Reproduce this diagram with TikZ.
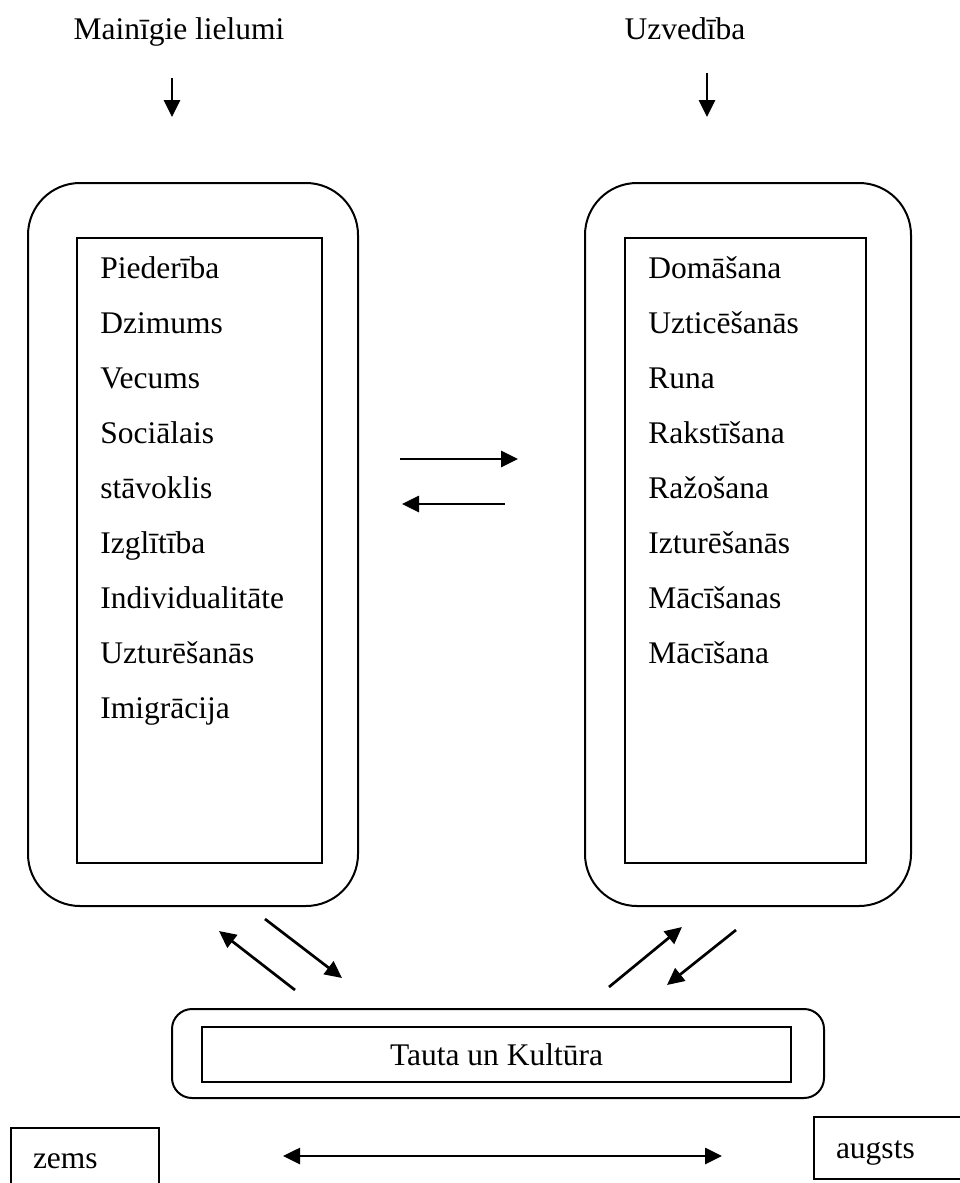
\documentclass[tikz,border=0pt]{standalone}
\usepackage{fontspec}
\setmainfont{Liberation Serif}
\usetikzlibrary{arrows.meta,positioning}
\tikzset{%
  roundbox/.style = {draw, line width=2pt, rectangle, rounded corners=52pt},
  listbox/.style  = {draw, line width=2pt, rectangle},
  entry/.style    = {anchor=base west, inner sep=0pt}, % list item
  heading/.style  = {anchor=base, inner sep=0pt},       % title above a column
  tagbox/.style   = {draw, line width=2pt, anchor=north west, inner xsep=22pt,
    align=left, text height=22pt}
}

\begin{document}
\begin{tikzpicture}[x=1pt, y=-1pt, line width=2.7pt,
  >={Triangle[length=17pt,width=16pt]}, font=\fontsize{31.5}{38}\selectfont]

  \useasboundingbox (0,0) rectangle (959,1183);

  \draw node at (179,39) [heading] (var) {Mainīgie lielumi};
  \draw node at (685,39) [heading] (beh) {Uzvedība};

  \draw node at (193,544.5) [roundbox, minimum width=330pt, minimum height=723pt] (lout) {};
  \draw node at (199.5,550.5) [listbox, minimum width=245pt, minimum height=625pt] (lin) {};
  \draw node at (748,544.5) [roundbox, minimum width=326pt, minimum height=723pt] (rout) {};
  \draw node at (745.5,550.5) [listbox, minimum width=241pt, minimum height=625pt] (rin) {};

  \foreach \txt [count=\i] in {Piederība, Dzimums, Vecums, Sociālais, stāvoklis,
    Izglītība, Individualitāte, Uzturēšanās, Imigrācija}
    \draw node at (99,223+55*\i) [entry] (l\i) {\txt};
  \foreach \txt [count=\i] in {Domāšana, Uzticēšanās, Runa, Rakstīšana, Ražošana,
    Izturēšanās, Mācīšanas, Mācīšana}
    \draw node at (647,223+55*\i) [entry] (r\i) {\txt};

  \draw node at (498,1053.5) [roundbox, rounded corners=20pt, minimum width=652pt,
    minimum height=89pt] (bout) {};
  \draw node at (496.5,1054.5) [listbox, minimum width=589pt, minimum height=55pt] (bin) {Tauta un Kultūra};

  \draw node at (10,1127) [tagbox, text width=104pt, inner ysep=18pt, text depth=15pt] (low) {zems};
  \draw node at (813,1116) [tagbox, text width=118pt, inner ysep=19pt, text depth=2pt] (high) {augsts};

  % arrow ends
  \coordinate (varA) at (172,78);   \coordinate (varB) at (172,117);
  \coordinate (behA) at (707,73);   \coordinate (behB) at (707,117);
  \coordinate (midA) at (400,459);  \coordinate (midB) at (518,459);
  \coordinate (midC) at (505,504);  \coordinate (midD) at (402,504);
  \coordinate (dlA) at (295,990);   \coordinate (dlB) at (219,931);
  \coordinate (dlC) at (265,919);   \coordinate (dlD) at (342,978);
  \coordinate (drA) at (609,987);   \coordinate (drB) at (682,927);
  \coordinate (drC) at (736,930);   \coordinate (drD) at (667,985);
  \coordinate (scA) at (283,1156);  \coordinate (scB) at (722,1156);

  \draw[->] (varA) -- (varB);
  \draw[->] (behA) -- (behB);
  \draw[->] (midA) -- (midB);
  \draw[->] (midC) -- (midD);
  \draw[->] (dlA) -- (dlB);
  \draw[->] (dlC) -- (dlD);
  \draw[->] (drA) -- (drB);
  \draw[->] (drC) -- (drD);
  \draw[<->] (scA) -- (scB);

\end{tikzpicture}
\end{document}
